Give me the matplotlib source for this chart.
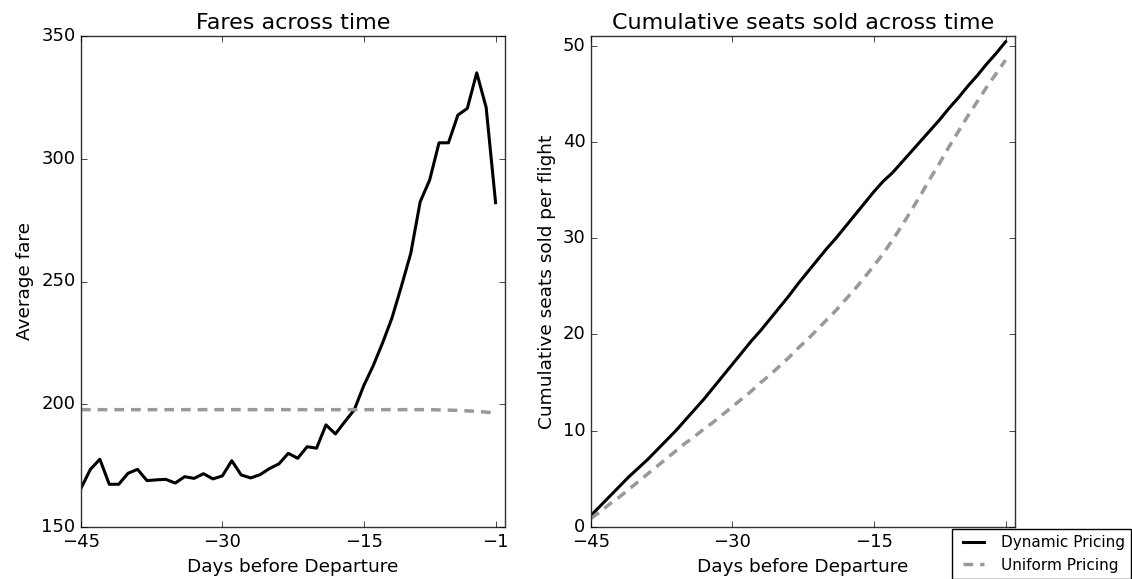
import matplotlib
matplotlib.use('Agg')
import matplotlib.pyplot as plt
import numpy as np

plt.style.use('classic')
plt.rcParams['font.family'] = ['DejaVu Sans']

# days before departure
days = list(range(-45, 0))

# average fare, dynamic pricing
fare_dynamic = [165.8, 173.5, 177.6, 167.4, 167.4, 171.9, 173.5, 168.9, 169.2, 169.4,
                167.9, 170.5, 169.8, 171.7, 169.6, 170.8, 177.0, 171.2, 170.0, 171.3,
                173.8, 175.7, 180.0, 178.0, 182.7, 182.1, 191.6, 187.9, 192.9, 197.7,
                207.5, 215.6, 224.9, 235.1, 248.0, 261.5, 282.5, 291.3, 306.5, 306.5,
                317.8, 320.5, 335.0, 320.9, 282.1]
# average fare, uniform pricing
fare_uniform = [197.8] * 38 + [197.7, 197.6, 197.5, 197.3, 197.1, 196.8, 196.5]

# cumulative seats sold per flight
seats_dynamic = [1.2, 2.2, 3.2, 4.2, 5.2, 6.1, 7.0, 8.0, 9.0, 10.0,
                 11.1, 12.2, 13.3, 14.5, 15.7, 16.9, 18.1, 19.3, 20.4, 21.6,
                 22.8, 24.0, 25.3, 26.5, 27.7, 28.9, 30.0, 31.2, 32.4, 33.6,
                 34.8, 35.9, 36.8, 37.9, 39.0, 40.1, 41.2, 42.3, 43.5, 44.6,
                 45.8, 46.9, 48.1, 49.2, 50.4]
seats_uniform = [0.9, 1.6, 2.4, 3.1, 3.9, 4.7, 5.5, 6.3, 7.1, 7.9,
                 8.7, 9.4, 10.2, 10.9, 11.7, 12.5, 13.3, 14.1, 15.0, 15.8,
                 16.7, 17.6, 18.6, 19.5, 20.5, 21.5, 22.5, 23.6, 24.7, 25.9,
                 27.1, 28.4, 29.8, 31.3, 32.9, 34.5, 36.2, 37.8, 39.5, 41.1,
                 42.7, 44.2, 45.7, 47.1, 48.5]

xticks = [-45, -30, -15, -1]

fig = plt.figure(figsize=(11.32, 5.79), dpi=100, facecolor='white')
ax1 = fig.add_axes([81/1132, 52/579, 424/1132, 491/579])
ax2 = fig.add_axes([591/1132, 52/579, 424/1132, 491/579])

# 左图：票价
ax1.plot(days, fare_dynamic, color='black', lw=2.2)
ax1.plot(days, fare_uniform, color='#999999', lw=2.5, dashes=(7, 5))
ax1.set_xlim(-45, 0)
ax1.set_ylim(150, 350)
ax1.set_xticks(xticks)
ax1.set_yticks([150, 200, 250, 300, 350])
ax1.set_xlabel('Days before Departure', fontsize=13.3)
ax1.set_ylabel('Average fare', fontsize=13.3)
ax1.set_title('Fares across time', fontsize=16)

# 右图：累计座位
ax2.plot(days, seats_dynamic, color='black', lw=2.2, label='Dynamic Pricing')
ax2.plot(days, seats_uniform, color='#999999', lw=2.5, dashes=(7, 5), label='Uniform Pricing')
ax2.set_xlim(-45, 0)
ax2.set_ylim(0, 51)
ax2.set_xticks(xticks)
ax2.set_yticks([0, 10, 20, 30, 40, 50])
ax2.set_xlabel('Days before Departure', fontsize=13.3)
ax2.set_ylabel('Cumulative seats sold per flight', fontsize=13.3)
ax2.set_title('Cumulative seats sold across time', fontsize=16)

for ax in (ax1, ax2):
    ax.tick_params(labelsize=13)
    for sp in ax.spines.values():
        sp.set_color('#333333')

# 图例放在右下角，部分超出画布
fig.legend(loc='upper left', bbox_to_anchor=(952/1132, 1 - 529/579),
           borderaxespad=0, fontsize=11, fancybox=False, handlelength=2)

fig.savefig('out.png', dpi=100, facecolor='white')
